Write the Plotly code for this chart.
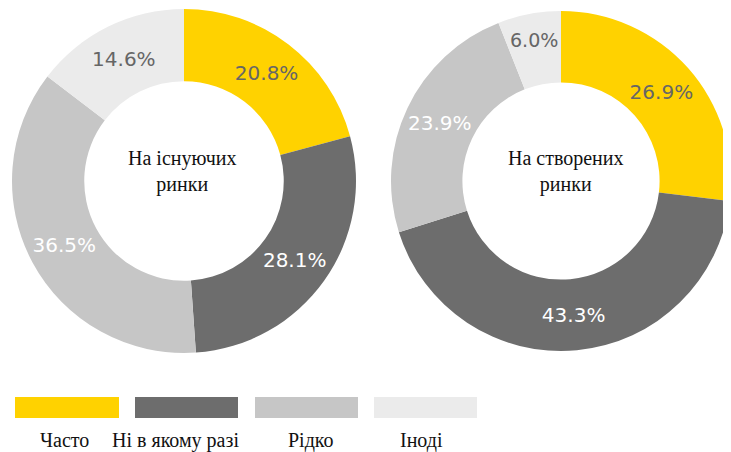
import plotly.graph_objects as go

categories = ['Часто', 'Ні в якому разі', 'Рідко', 'Іноді']
existing_markets = [20.8, 28.1, 36.5, 14.6]
created_markets = [26.9, 43.3, 23.9, 6.0]
colors = ['#ffd200', '#6d6d6d', '#c6c6c6', '#ebebeb']
text_colors = ['#666666', '#ffffff', '#ffffff', '#666666']

# сторінка має відступ 8px, тому фігура трохи менша і зсунута
OFF = 8
W, H = 731 - OFF, 452 - OFF

def px_x(v):
    return (v - OFF) / W

def px_y(v):
    return 1 - (v - OFF) / H

fig = go.Figure()

# ліва діаграма - існуючі ринки
fig.add_trace(go.Pie(
    labels=categories,
    values=existing_markets,
    hole=0.58,
    sort=False,
    direction='clockwise',
    rotation=0,
    marker=dict(colors=colors, line=dict(width=0)),
    texttemplate='%{value:.1f}%',
    textposition='inside',
    insidetextorientation='horizontal',
    insidetextfont=dict(family='DejaVu Sans', size=20, color=text_colors),
    domain=dict(x=[px_x(12), px_x(356)], y=[px_y(353), px_y(9)]),
    showlegend=False,
    hoverinfo='label+value',
))

# права діаграма - створені ринки
fig.add_trace(go.Pie(
    labels=categories,
    values=created_markets,
    hole=0.58,
    sort=False,
    direction='clockwise',
    rotation=0,
    marker=dict(colors=colors, line=dict(width=0)),
    texttemplate='%{value:.1f}%',
    textposition='inside',
    insidetextorientation='horizontal',
    insidetextfont=dict(family='DejaVu Sans', size=20, color=text_colors),
    domain=dict(x=[px_x(391), 1.0], y=[px_y(353), px_y(9)]),
    showlegend=False,
    hoverinfo='label+value',
))

fig.add_annotation(x=px_x(182), y=px_y(171), xref='paper', yref='paper',
                   xanchor='center', yanchor='middle',
                   text='На існуючих<br>ринки', showarrow=False,
                   font=dict(family='Liberation Serif', size=20, color='#111111'))
fig.add_annotation(x=px_x(566), y=px_y(171), xref='paper', yref='paper',
                   xanchor='center', yanchor='middle',
                   text='На створених<br>ринки', showarrow=False,
                   font=dict(family='Liberation Serif', size=20, color='#111111'))

# легенда внизу
legend_boxes = [(15, 119), (135, 238), (255, 358), (374, 477)]
label_x = [64, 175, 311, 421]
for (x0, x1), lx, name, c in zip(legend_boxes, label_x, categories, colors):
    fig.add_shape(type='rect', xref='paper', yref='paper',
                  x0=px_x(x0), x1=px_x(x1), y0=px_y(418), y1=px_y(397),
                  fillcolor=c, line=dict(width=0))
    fig.add_annotation(x=px_x(lx), y=px_y(440), xref='paper', yref='paper',
                       xanchor='center', yanchor='middle',
                       text=name, showarrow=False,
                       font=dict(family='Liberation Serif', size=20, color='#111111'))

fig.update_layout(
    width=W, height=H,
    margin=dict(l=0, r=0, t=0, b=0),
    paper_bgcolor='white',
    plot_bgcolor='white',
)

fig.write_html('out.html')
